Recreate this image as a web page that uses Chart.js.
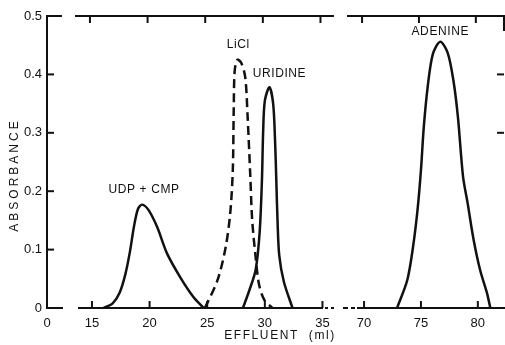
<!DOCTYPE html>
<html><head><meta charset="utf-8">
<script src="https://cdn.jsdelivr.net/npm/chart.js@4.4.1/dist/chart.umd.min.js"></script>
<style>
html,body{margin:0;padding:0;background:#fff;width:505px;height:345px;overflow:hidden}
canvas{position:absolute;top:0}
#cL{left:0}
#cR{left:340px}
</style></head><body>
<canvas id="cL" width="340" height="345"></canvas>
<canvas id="cR" width="165" height="345"></canvas>
<script>
// ---- data (effluent ml, absorbance) ----
const udpX = [16.0, 16.8, 17.4, 17.9, 18.3, 18.65, 19.0, 19.35, 19.9, 20.65, 21.5, 22.65, 23.8, 24.7];
const udpY = [0, 0.008, 0.026, 0.058, 0.097, 0.14, 0.17, 0.177, 0.168, 0.139, 0.094, 0.053, 0.019, 0];
const liclX = [24.8, 25.9, 26.6, 27.0, 27.22, 27.3, 27.38, 27.6, 27.95, 28.3, 28.5, 28.74, 28.9, 29.2, 29.5, 29.95, 30.65];
const liclY = [0, 0.048, 0.104, 0.163, 0.236, 0.34, 0.405, 0.425, 0.42, 0.395, 0.33, 0.225, 0.151, 0.087, 0.04, 0.014, 0];
const uriX = [28.1, 28.65, 29.2, 29.55, 29.75, 29.85, 30.0, 30.4, 30.72, 30.88, 31.0, 31.1, 31.25, 31.65, 32.4];
const uriY = [0, 0.03, 0.065, 0.13, 0.22, 0.30, 0.355, 0.378, 0.35, 0.29, 0.215, 0.15, 0.09, 0.045, 0];
const adeX = [72.9, 73.8, 74.3, 74.7, 75.0, 75.25, 75.6, 76.05, 76.7, 77.35, 77.85, 78.25, 78.7, 79.1, 79.6, 80.2, 80.8, 81.1];
const adeY = [0, 0.048, 0.104, 0.168, 0.236, 0.31, 0.38, 0.435, 0.456, 0.437, 0.39, 0.327, 0.225, 0.18, 0.12, 0.065, 0.026, 0];
const seriesNames = ["UDP + CMP", "LiCl", "URIDINE", "ADENINE"];
// ---- ticks ----
const breakLabel = "0";
const leftTickValues = [15, 20, 25, 30, 35];
const rightTickValues = [70, 75, 80];
const yTickValues = [0, 0.1, 0.2, 0.3, 0.4, 0.5];
const leftXMin = 11.1, leftXMax = 36.0, rightXMin = 68.5, rightXMax = 82.3;
const yTitle = "ABSORBANCE";
const xTitle = "EFFLUENT  (ml)";

const INK = '#111';
const FONT = "'Liberation Sans', Arial, sans-serif";
Chart.defaults.font.family = FONT;
Chart.defaults.color = INK;

const pts = (xs, ys) => xs.map((x, i) => ({x: x, y: ys[i]}));

function seg(ctx, x1, y1, x2, y2) { ctx.beginPath(); ctx.moveTo(x1, y1); ctx.lineTo(x2, y2); ctx.stroke(); }

const peakLabelPlugin = {
  id: 'peakLabels',
  afterDatasetsDraw(chart) {
    const ctx = chart.ctx, xs = chart.scales.x, ys = chart.scales.y;
    ctx.save();
    ctx.fillStyle = INK;
    ctx.font = "12px " + FONT;
    ctx.letterSpacing = '0.6px';
    ctx.textAlign = 'center';
    ctx.textBaseline = 'middle';
    chart.data.datasets.forEach(ds => {
      let best = ds.data[0];
      ds.data.forEach(p => { if (p.y > best.y) best = p; });
      const off = ds.labelOffset || [0, -14];
      ctx.fillText(ds.label, xs.getPixelForValue(best.x) + off[0], ys.getPixelForValue(best.y) + off[1]);
    });
    ctx.restore();
  }
};

const frameLeft = {
  id: 'frameLeft',
  afterDraw(chart) {
    const ctx = chart.ctx, a = chart.chartArea, x = chart.scales.x, y = chart.scales.y;
    ctx.save();
    ctx.strokeStyle = INK; ctx.lineWidth = 2;
    seg(ctx, a.left, a.top - 1, a.left, a.bottom + 1);
    seg(ctx, a.left, a.bottom, a.left + 16, a.bottom);
    seg(ctx, a.left + 31, a.bottom, a.right - 11, a.bottom);
    seg(ctx, a.right - 9, a.bottom, a.right - 6, a.bottom);
    seg(ctx, a.right - 3, a.bottom, a.right, a.bottom);
    seg(ctx, a.left, a.top, a.left + 15, a.top);
    seg(ctx, a.left + 28, a.top, a.right, a.top);
    leftTickValues.forEach(v => {
      const px = x.getPixelForValue(v);
      seg(ctx, px, a.bottom, px, a.bottom - 7);
      seg(ctx, px - 2, a.top, px - 2, a.top + 7);
    });
    yTickValues.slice(1, -1).forEach(v => {
      const py = y.getPixelForValue(v);
      seg(ctx, a.left, py, a.left + 7, py);
    });
    ctx.fillStyle = INK;
    ctx.font = "12px " + FONT;
    ctx.textAlign = 'center'; ctx.textBaseline = 'middle';
    ctx.letterSpacing = '1.6px';
    ctx.fillText(xTitle, 280, 336);
    ctx.translate(15, 175);
    ctx.rotate(-Math.PI / 2);
    ctx.letterSpacing = '3px';
    ctx.fillText(yTitle, 0, 0);
    ctx.restore();
  }
};

const frameRight = {
  id: 'frameRight',
  afterDraw(chart) {
    const ctx = chart.ctx, a = chart.chartArea, x = chart.scales.x, y = chart.scales.y;
    ctx.save();
    ctx.strokeStyle = INK; ctx.lineWidth = 2;
    seg(ctx, a.left - 4, a.bottom, a.left + 1, a.bottom);
    seg(ctx, a.left + 4, a.bottom, a.left + 8, a.bottom);
    seg(ctx, a.left + 10, a.bottom, a.right + 1, a.bottom);
    seg(ctx, a.left, a.top, a.right + 1, a.top);
    seg(ctx, a.right, a.top, a.right, a.top + 15);
    rightTickValues.forEach(v => {
      const px = x.getPixelForValue(v);
      seg(ctx, px, a.bottom, px, a.bottom - 7);
      seg(ctx, px - 2, a.top, px - 2, a.top + 7);
    });
    [0.3, 0.4].forEach(v => {
      const py = y.getPixelForValue(v);
      seg(ctx, a.right - 7, py, a.right, py);
    });
    ctx.restore();
  }
};

const tickFont = {family: FONT, size: 13};
const common = {
  responsive: false, animation: false, devicePixelRatio: 1,
  plugins: {legend: {display: false}, tooltip: {enabled: false}},
  elements: {point: {radius: 0}, line: {borderWidth: 2.5, borderColor: INK, tension: 0.3, fill: false}}
};

new Chart(document.getElementById('cL'), {
  type: 'line',
  data: {datasets: [
    {label: seriesNames[0], data: pts(udpX, udpY), borderColor: INK, labelOffset: [2, -15]},
    {label: seriesNames[1], data: pts(liclX, liclY), borderColor: INK, borderDash: [9, 5], labelOffset: [1, -15]},
    {label: seriesNames[2], data: pts(uriX, uriY), borderColor: INK, labelOffset: [10, -14]}
  ]},
  options: Object.assign({}, common, {
    layout: {padding: {top: 16, right: 6, left: 0, bottom: 0}},
    scales: {
      x: {type: 'linear', min: leftXMin, max: leftXMax,
        afterFit(s) { s.height = 37; },
        afterBuildTicks(s) { s.ticks = [{value: leftXMin}].concat(leftTickValues.map(v => ({value: v}))); },
        grid: {display: false, drawTicks: false}, border: {display: false},
        ticks: {autoSkip: false, maxRotation: 0, padding: 8, color: INK, font: tickFont,
          callback: (v, i) => i === 0 ? breakLabel : String(v)}},
      y: {type: 'linear', min: 0, max: 0.5,
        afterFit(s) { s.width = 47; },
        afterBuildTicks(s) { s.ticks = yTickValues.map(v => ({value: v})); },
        grid: {display: false, drawTicks: false}, border: {display: false},
        ticks: {padding: 5, color: INK, font: tickFont,
          callback: v => v === 0 ? '0' : v.toFixed(1)}}
    }
  }),
  plugins: [peakLabelPlugin, frameLeft]
});

new Chart(document.getElementById('cR'), {
  type: 'line',
  data: {datasets: [
    {label: seriesNames[3], data: pts(adeX, adeY), borderColor: INK, labelOffset: [0, -10]}
  ]},
  options: Object.assign({}, common, {
    layout: {padding: {top: 16, right: 1, left: 7, bottom: 0}},
    scales: {
      x: {type: 'linear', min: rightXMin, max: rightXMax,
        afterFit(s) { s.height = 37; },
        afterBuildTicks(s) { s.ticks = rightTickValues.map(v => ({value: v})); },
        grid: {display: false, drawTicks: false}, border: {display: false},
        ticks: {autoSkip: false, maxRotation: 0, padding: 8, color: INK, font: tickFont}},
      y: {type: 'linear', min: 0, max: 0.5, display: false}
    }
  }),
  plugins: [peakLabelPlugin, frameRight]
});
</script>
</body></html>
